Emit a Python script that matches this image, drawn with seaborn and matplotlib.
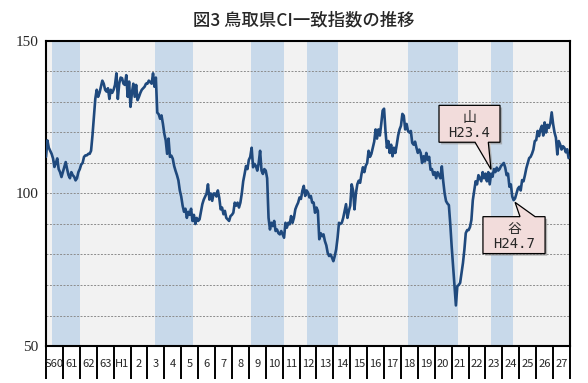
import numpy as np
import matplotlib
matplotlib.use("Agg")
import matplotlib.pyplot as plt
from matplotlib.patches import Polygon
import seaborn as sns

# ---- data (monthly CI, 1985-2015) ----
ci_s60_s63 = [
    112, 117.4, 115, 114, 113, 111.5, 108.7, 110, 111.5, 108, 107, 105.4,
    107, 108.5, 110.3, 108, 106, 105, 107, 106, 105.5, 104.3, 105, 107,
    108, 109.5, 110, 112, 112.5, 112.5, 113, 113, 114, 119, 125, 131,
    134, 131.7, 133, 135, 137, 136, 134, 133.4, 134.5, 131, 134, 133,
]
ci_h1_h5 = [
    134, 135.6, 139.4, 131, 136, 138, 137.8, 136, 135.6, 138.8, 131.7, 136.7,
    128.4, 133, 136, 131.7, 135.6, 130.6, 131.7, 133, 134, 134.5, 135, 136,
    136, 137, 136.5, 136, 139.4, 135, 138, 126.5, 126, 124.5, 125.6, 122.9,
    119.6, 117.4, 113, 118, 112, 112.4, 111.4, 109, 107.4, 106, 104.3, 101,
    99, 96, 94, 95, 92, 94, 93, 95, 91, 93, 90, 92,
]
ci_h6_h10 = [
    91, 91.5, 94, 96.5, 98, 99, 100, 103, 98, 100, 97.6, 100,
    100, 99, 101, 98.6, 94.8, 95.4, 93.2, 94.3, 92, 91.5, 91, 92.6,
    93, 93.7, 97, 96, 97, 95.4, 97, 100, 104, 106.4, 109, 108,
    111, 112, 115, 108.6, 109.7, 109, 107.5, 110, 114, 107.5, 106.4, 108,
    107.5, 105, 92, 88.2, 90.4, 89.3, 91, 87.7, 88.2, 87, 86.6, 87.7,
]
ci_h11_h15 = [
    86.6, 85.5, 90.4, 88.8, 90.4, 89.9, 92.6, 90.4, 92, 94.8, 96, 97,
    98.7, 98.2, 100.9, 102.5, 99.2, 101, 100.3, 98.7, 99.2, 97, 97, 93.7,
    95.4, 94.3, 85, 87, 86, 86.6, 84.4, 83, 80.5, 79.5, 80, 79,
    77.8, 79.5, 81.7, 85.5, 90.4, 90, 90.4, 92, 94.3, 96.5, 92, 94.3,
    96, 103, 101, 94.8, 100, 103, 104.2, 103.5, 106.4, 108.6, 107, 109.1,
]
ci_h16_h20 = [
    110, 114, 112, 113, 115, 117, 121, 118, 121, 119, 122.8, 127.2,
    127.8, 120.5, 115, 117.2, 113.3, 116, 112.2, 115, 113.3, 116, 119, 121,
    122.2, 126.1, 125.5, 121, 122.8, 120.5, 120, 120.5, 116.6, 116, 117, 115,
    113.3, 114.4, 113.3, 110, 112.2, 110.5, 113.3, 111, 112, 107.8, 108, 106.1,
    107, 105, 107, 106, 105, 108.9, 104, 100, 97.5, 96.7, 96.2, 90,
]
ci_h21_h27 = [
    82.6, 76, 69.6, 63.3, 69.6, 70, 70.7, 73.9, 77.2, 81.5, 87, 88,
    88, 89, 91.3, 97.8, 101, 104, 103, 106, 105, 104, 107, 105,
    106.5, 104, 107, 103, 106.5, 105.5, 108, 107, 108.5, 107.5, 108, 109,
    109.5, 110, 108.5, 106, 106.5, 102.2, 103, 99, 97.8, 98.4, 100, 101.6,
    102.2, 101, 104.4, 104, 106, 108.3, 110, 111.6, 112, 113, 114.4, 117.2,
    117.5, 120.5, 118.8, 121, 122.2, 119, 123.3, 120, 122.5, 121.5, 123, 126.6,
    122.8, 120, 118.3, 112.8, 117.2, 116.1, 114.4, 115.5, 115, 113.5, 114.5, 111.6,
]

year_labels = ["S60", "61", "62", "63", "H1"] + [str(i) for i in range(2, 28)]

# business-cycle peaks / troughs (year, month)
peaks = [(1985, 4), (1991, 5), (1997, 1), (2000, 5), (2006, 5), (2011, 4)]
troughs = [(1986, 12), (1993, 8), (1999, 1), (2002, 3), (2009, 4), (2012, 7)]

peak_label = ("山", "H23.4")
trough_label = ("谷", "H24.7")

ci = np.array(ci_s60_s63 + ci_h1_h5 + ci_h6_h10 + ci_h11_h15 + ci_h16_h20 + ci_h21_h27)
months = np.arange(len(ci))
n_years = len(year_labels)


def midx(ym):
    return (ym[0] - 1985) * 12 + (ym[1] - 1)


# ---- figure ----
sns.set_style("white")
plt.rcParams["font.family"] = ["Noto Sans CJK JP", "DejaVu Sans"]

fig = plt.figure(figsize=(5.88, 3.83), dpi=100)
ax = fig.add_axes([0.0782, 0.0966, 0.8912, 0.7964])
ax.set_facecolor("#f2f2f2")

band_shift = 1.2
for p, t in zip(peaks, troughs):
    ax.axvspan(midx(p) + band_shift, midx(t) + band_shift, color="#c8d9ea", lw=0, zorder=0)

for v in range(60, 150, 10):
    ax.axhline(v, color="#8c8c8c", lw=0.7, ls=(0, (2, 1.5)), zorder=1)

sns.lineplot(x=months, y=ci, ax=ax, color="#1f497d", lw=1.9, zorder=3)

ax.set_xlim(0, n_years * 12)
ax.set_ylim(50, 150)
ax.set_xlabel("")
ax.set_ylabel("")

ax.set_yticks([50, 100, 150])
ax.set_yticklabels(["50", "100", "150"], fontsize=11, family=["Liberation Serif"])
ax.tick_params(axis="y", left=False, length=0, pad=5.5)

ax.set_xticks(np.arange(0, n_years * 12 + 1, 12))
ax.set_xticklabels([""] * (n_years + 1))
ax.tick_params(axis="x", which="major", bottom=True, length=24, width=1.4,
               color="black", direction="out")
ax.set_xticks(np.arange(6, n_years * 12, 12), minor=True)
ax.set_xticklabels(year_labels, minor=True, fontsize=8)
ax.tick_params(axis="x", which="minor", bottom=True, length=0, pad=9)

for s in ax.spines.values():
    s.set_color("black")
    s.set_linewidth(1.5)


# ---- callouts ----
def callout(poly, text1, text2, cx, cy1, cy2):
    sx, sy = 1.5, -0.7
    ax.add_patch(Polygon([(x + sx, y + sy) for x, y in poly], closed=True,
                         facecolor="#8c8c8c", edgecolor="none", alpha=0.6, zorder=4))
    ax.add_patch(Polygon(poly, closed=True, facecolor="#f2dcdb",
                         edgecolor="black", lw=0.9, zorder=5))
    ax.text(cx, cy1, text1, ha="center", va="center", fontsize=10, zorder=6)
    ax.text(cx, cy2, text2, ha="center", va="center", fontsize=10,
            family=["DejaVu Sans Mono"], zorder=6)


box1 = [(279, 128.9), (322.3, 128.9), (322.3, 116.8), (314, 116.8),
        (315.9, 107.9), (304.6, 116.8), (279, 116.8)]
callout(box1, peak_label[0], peak_label[1], 300.6, 124.8, 119.8)

box2 = [(310.2, 92.4), (336.5, 92.4), (333, 97.1), (347.2, 92.4),
        (354.3, 92.4), (354.3, 80.3), (310.2, 80.3)]
callout(box2, trough_label[0], trough_label[1], 332.2, 88.4, 83.4)

fig.text(0.517, 0.948, "図3 鳥取県CI一致指数の推移", ha="center", va="center",
         fontsize=12.5, fontweight="medium")

fig.savefig("out.png", dpi=100)
